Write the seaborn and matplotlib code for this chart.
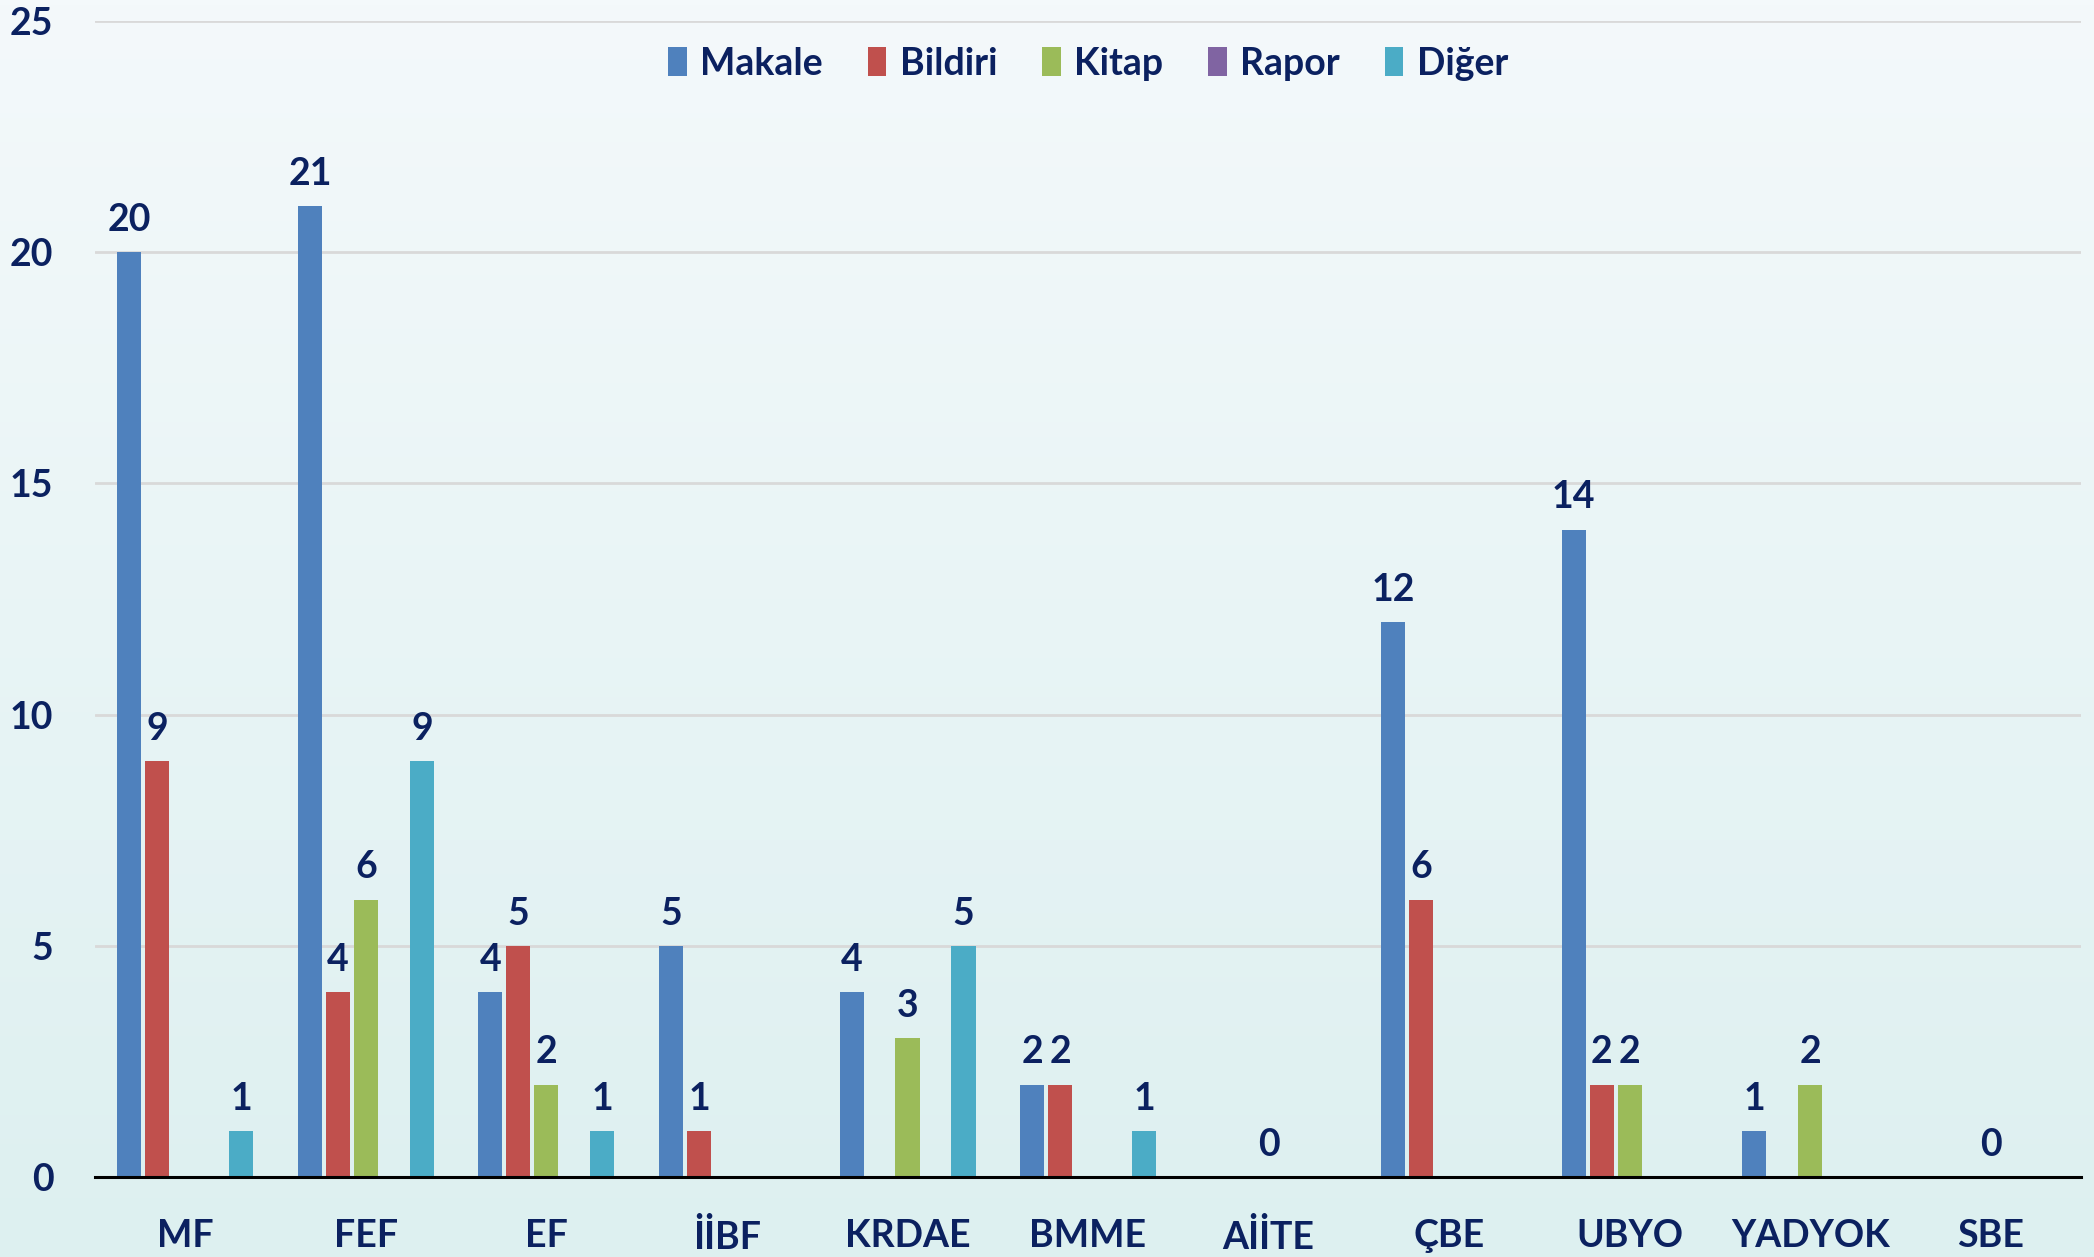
import numpy as np
import pandas as pd
import matplotlib
matplotlib.use('Agg')
import matplotlib.pyplot as plt
from matplotlib.patches import Patch
from matplotlib.colors import LinearSegmentedColormap
import seaborn as sns

nan = np.nan
categories = ['MF', 'FEF', 'EF', 'İİBF', 'KRDAE', 'BMME', 'AİİTE', 'ÇBE', 'UBYO', 'YADYOK', 'SBE']
series = ['Makale', 'Bildiri', 'Kitap', 'Rapor', 'Diğer']

makale = [20, 21, 4, 5, 4, 2, nan, 12, 14, 1, nan]
bildiri = [9, 4, 5, 1, nan, 2, nan, 6, 2, nan, nan]
kitap = [nan, 6, 2, nan, 3, nan, 0, nan, 2, 2, 0]
rapor = [nan] * 11
diger = [1, 9, 1, nan, 5, 1, nan, nan, nan, nan, nan]

colors = ['#4F81BD', '#C0504D', '#9BBB59', '#8064A2', '#4BACC6']
text_color = '#0B2160'

rows = []
for name, vals in zip(series, [makale, bildiri, kitap, rapor, diger]):
	for cat, v in zip(categories, vals):
		rows.append({'birim': cat, 'tur': name, 'sayi': v})
df = pd.DataFrame(rows)

sns.set_style('white')
plt.rcParams['font.family'] = ['Lato', 'DejaVu Sans']
plt.rcParams['font.weight'] = 'bold'

fig = plt.figure(figsize=(20.94, 12.57), dpi=100)

# gradient background
bg = fig.add_axes([0, 0, 1, 1], zorder=0)
cmap = LinearSegmentedColormap.from_list('bg', ['#F4F9FB', '#DDF0F0'])
bg.imshow(np.linspace(0, 1, 256).reshape(-1, 1), aspect='auto', cmap=cmap, extent=[0, 1, 0, 1])
bg.axis('off')

ax = fig.add_axes([0.0454, 0.0636, 0.9484, 0.9197], zorder=1)
ax.set_facecolor('none')

palette = dict(zip(series, colors))
sns.barplot(data=df, x='birim', y='sayi', hue='tur', order=categories, hue_order=series,
            palette=palette, width=0.775, gap=0.14, errorbar=None, legend=False,
            linewidth=0, saturation=1, ax=ax)

for cont in ax.containers:
	ax.bar_label(cont, labels=['{:g}'.format(b.get_height()) for b in cont],
	             padding=11, fontsize=27, fontweight='bold', color=text_color)

ax.set_xlim(-0.5, len(categories) - 0.5)
ax.set_ylim(0, 25)
ax.set_yticks([0, 5, 10, 15, 20, 25])
ax.yaxis.grid(True, color='#D9D9D9', linewidth=2)
ax.set_axisbelow(True)
for s in ['left', 'right', 'top']:
	ax.spines[s].set_visible(False)
ax.spines['bottom'].set_linewidth(2.2)
ax.spines['bottom'].set_color('black')

ax.set_xticks(np.arange(-0.5, len(categories)), minor=True)
ax.tick_params(axis='x', which='minor', direction='inout', length=20, width=1.5, color='black')
ax.tick_params(axis='x', which='major', length=0, pad=30, labelsize=27, labelcolor=text_color)
ax.tick_params(axis='y', length=0, pad=30, labelsize=27, labelcolor=text_color)
for lbl in ax.get_xticklabels() + ax.get_yticklabels():
	lbl.set_fontweight('bold')
ax.set_xlabel('')
ax.set_ylabel('')

handles = [Patch(facecolor=palette[s], edgecolor='none') for s in series]
leg = ax.legend(handles, series, loc='center', bbox_to_anchor=(0.5, 0.963), ncol=5,
                frameon=False, fontsize=27, handlelength=0.5, handleheight=0.8,
                handletextpad=0.35, columnspacing=1.2)
for t in leg.get_texts():
	t.set_color(text_color)
	t.set_fontweight('bold')

fig.savefig('out.png', dpi=100)
